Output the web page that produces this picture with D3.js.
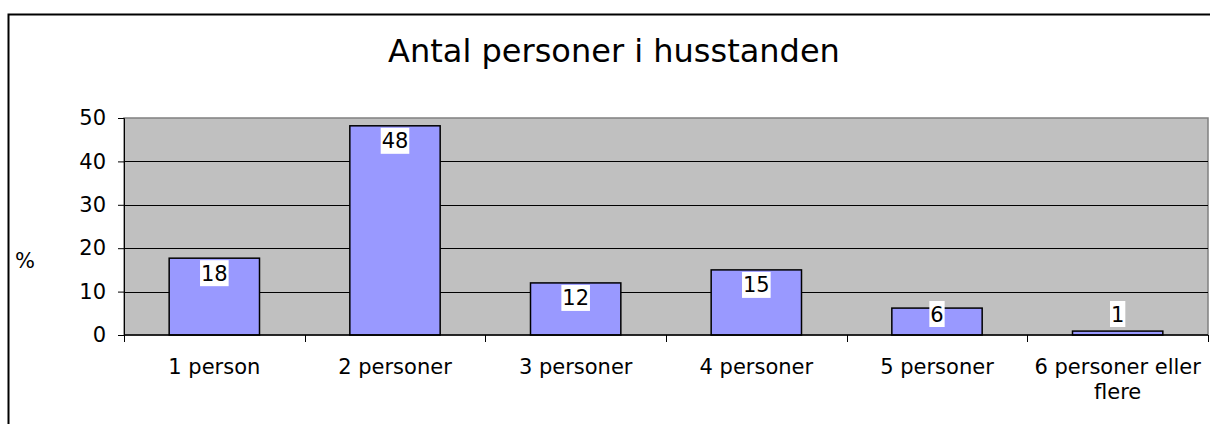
<!DOCTYPE html>
<html>
<head>
<meta charset="utf-8">
<script src="https://cdn.jsdelivr.net/npm/d3@7"></script>
<style>
  body { margin: 0; background: #fff; }
  svg { display: block; font-family: Verdana, "DejaVu Sans", sans-serif; }
</style>
</head>
<body>
<svg id="chart" width="1210" height="424"></svg>
<script>
// data
var categories = ["1 person", "2 personer", "3 personer", "4 personer", "5 personer", "6 personer eller flere"];
var values = [17.7, 48.2, 12.0, 15.0, 6.2, 0.9];
var labels = ["18", "48", "12", "15", "6", "1"];
var yTicks = [0, 10, 20, 30, 40, 50];

var svg = d3.select("#chart");
var plot = { left: 124, top: 118, right: 1208, bottom: 335 };
var fs = 21; // label font size

// outer frame (runs off the right/bottom edge)
svg.append("rect")
  .attr("x", 8.5).attr("y", 14.5)
  .attr("width", 1300).attr("height", 500)
  .attr("fill", "#fff").attr("stroke", "#000").attr("stroke-width", 2);

svg.append("text")
  .attr("x", 614).attr("y", 62)
  .attr("text-anchor", "middle")
  .attr("font-size", 32)
  .attr("fill", "#000")
  .text("Antal personer i husstanden");

var x = d3.scaleBand().domain(categories).range([plot.left, plot.right]).paddingInner(0.5).paddingOuter(0.25);
var xb = d3.scaleBand().domain(categories).range([plot.left, plot.right]);
var y = d3.scaleLinear().domain([0, 50]).range([plot.bottom, plot.top]);

// plot area
svg.append("rect")
  .attr("x", plot.left).attr("y", plot.top)
  .attr("width", plot.right - plot.left).attr("height", plot.bottom - plot.top)
  .attr("fill", "#c0c0c0").attr("stroke", "#808080").attr("stroke-width", 1.5);

// gridlines
svg.append("g").selectAll("line")
  .data(yTicks.filter(t => t > 0 && t < 50))
  .join("line")
  .attr("x1", plot.left).attr("x2", plot.right)
  .attr("y1", d => Math.round(y(d)) + 0.5).attr("y2", d => Math.round(y(d)) + 0.5)
  .attr("stroke", "#000").attr("stroke-width", 1);

// bars
svg.append("g").selectAll("rect")
  .data(values)
  .join("rect")
  .attr("x", (d, i) => x(categories[i]))
  .attr("y", d => y(d))
  .attr("width", x.bandwidth())
  .attr("height", d => y(0) - y(d))
  .attr("fill", "#9999ff").attr("stroke", "#000").attr("stroke-width", 1.5);

// y axis
var yAxis = svg.append("g")
  .attr("transform", "translate(" + plot.left + ",0)")
  .call(d3.axisLeft(y).tickValues(yTicks).tickSize(6).tickPadding(12));
yAxis.select(".domain").attr("stroke", "#000");
yAxis.selectAll("text").attr("font-size", fs).attr("font-family", "Verdana, 'DejaVu Sans', sans-serif").attr("fill", "#000");

// x axis
svg.append("line")
  .attr("x1", plot.left).attr("x2", plot.right)
  .attr("y1", plot.bottom).attr("y2", plot.bottom)
  .attr("stroke", "#000").attr("stroke-width", 1.5);
svg.append("g").selectAll("line")
  .data(categories.map((c, i) => xb(c)).concat([plot.right]))
  .join("line")
  .attr("x1", d => Math.round(d) + 0.5).attr("x2", d => Math.round(d) + 0.5)
  .attr("y1", plot.bottom).attr("y2", plot.bottom + 7)
  .attr("stroke", "#000");

var xl = svg.append("g").selectAll("text")
  .data(categories)
  .join("text")
  .attr("x", d => xb(d) + xb.bandwidth() / 2)
  .attr("y", 374)
  .attr("text-anchor", "middle")
  .attr("font-size", fs)
  .attr("fill", "#000");
xl.each(function (d) {
  var t = d3.select(this);
  if (d.indexOf("eller") > 0) {
    var parts = ["6 personer eller", "flere"];
    parts.forEach((p, k) => {
      t.append("tspan").attr("x", xb(d) + xb.bandwidth() / 2).attr("dy", k ? 25 : 0).text(p);
    });
  } else {
    t.text(d);
  }
});

// y axis title
svg.append("text")
  .attr("x", 15).attr("y", 268)
  .attr("font-size", fs)
  .attr("fill", "#000")
  .text("%");

// data labels with white boxes
var lab = svg.append("g").selectAll("g")
  .data(values)
  .join("g")
  .attr("transform", (d, i) => {
    var cy = Math.min(y(d) + 15, y(0) - 21);
    return "translate(" + (x(categories[i]) + x.bandwidth() / 2) + "," + cy + ")";
  });
lab.append("rect")
  .attr("x", (d, i) => -(labels[i].length * 13.3 + 2) / 2)
  .attr("y", -13)
  .attr("width", (d, i) => labels[i].length * 13.3 + 2)
  .attr("height", 26)
  .attr("fill", "#fff");
lab.append("text")
  .attr("text-anchor", "middle")
  .attr("dy", "0.36em")
  .attr("font-size", fs)
  .attr("fill", "#000")
  .text((d, i) => labels[i]);
</script>
</body>
</html>
